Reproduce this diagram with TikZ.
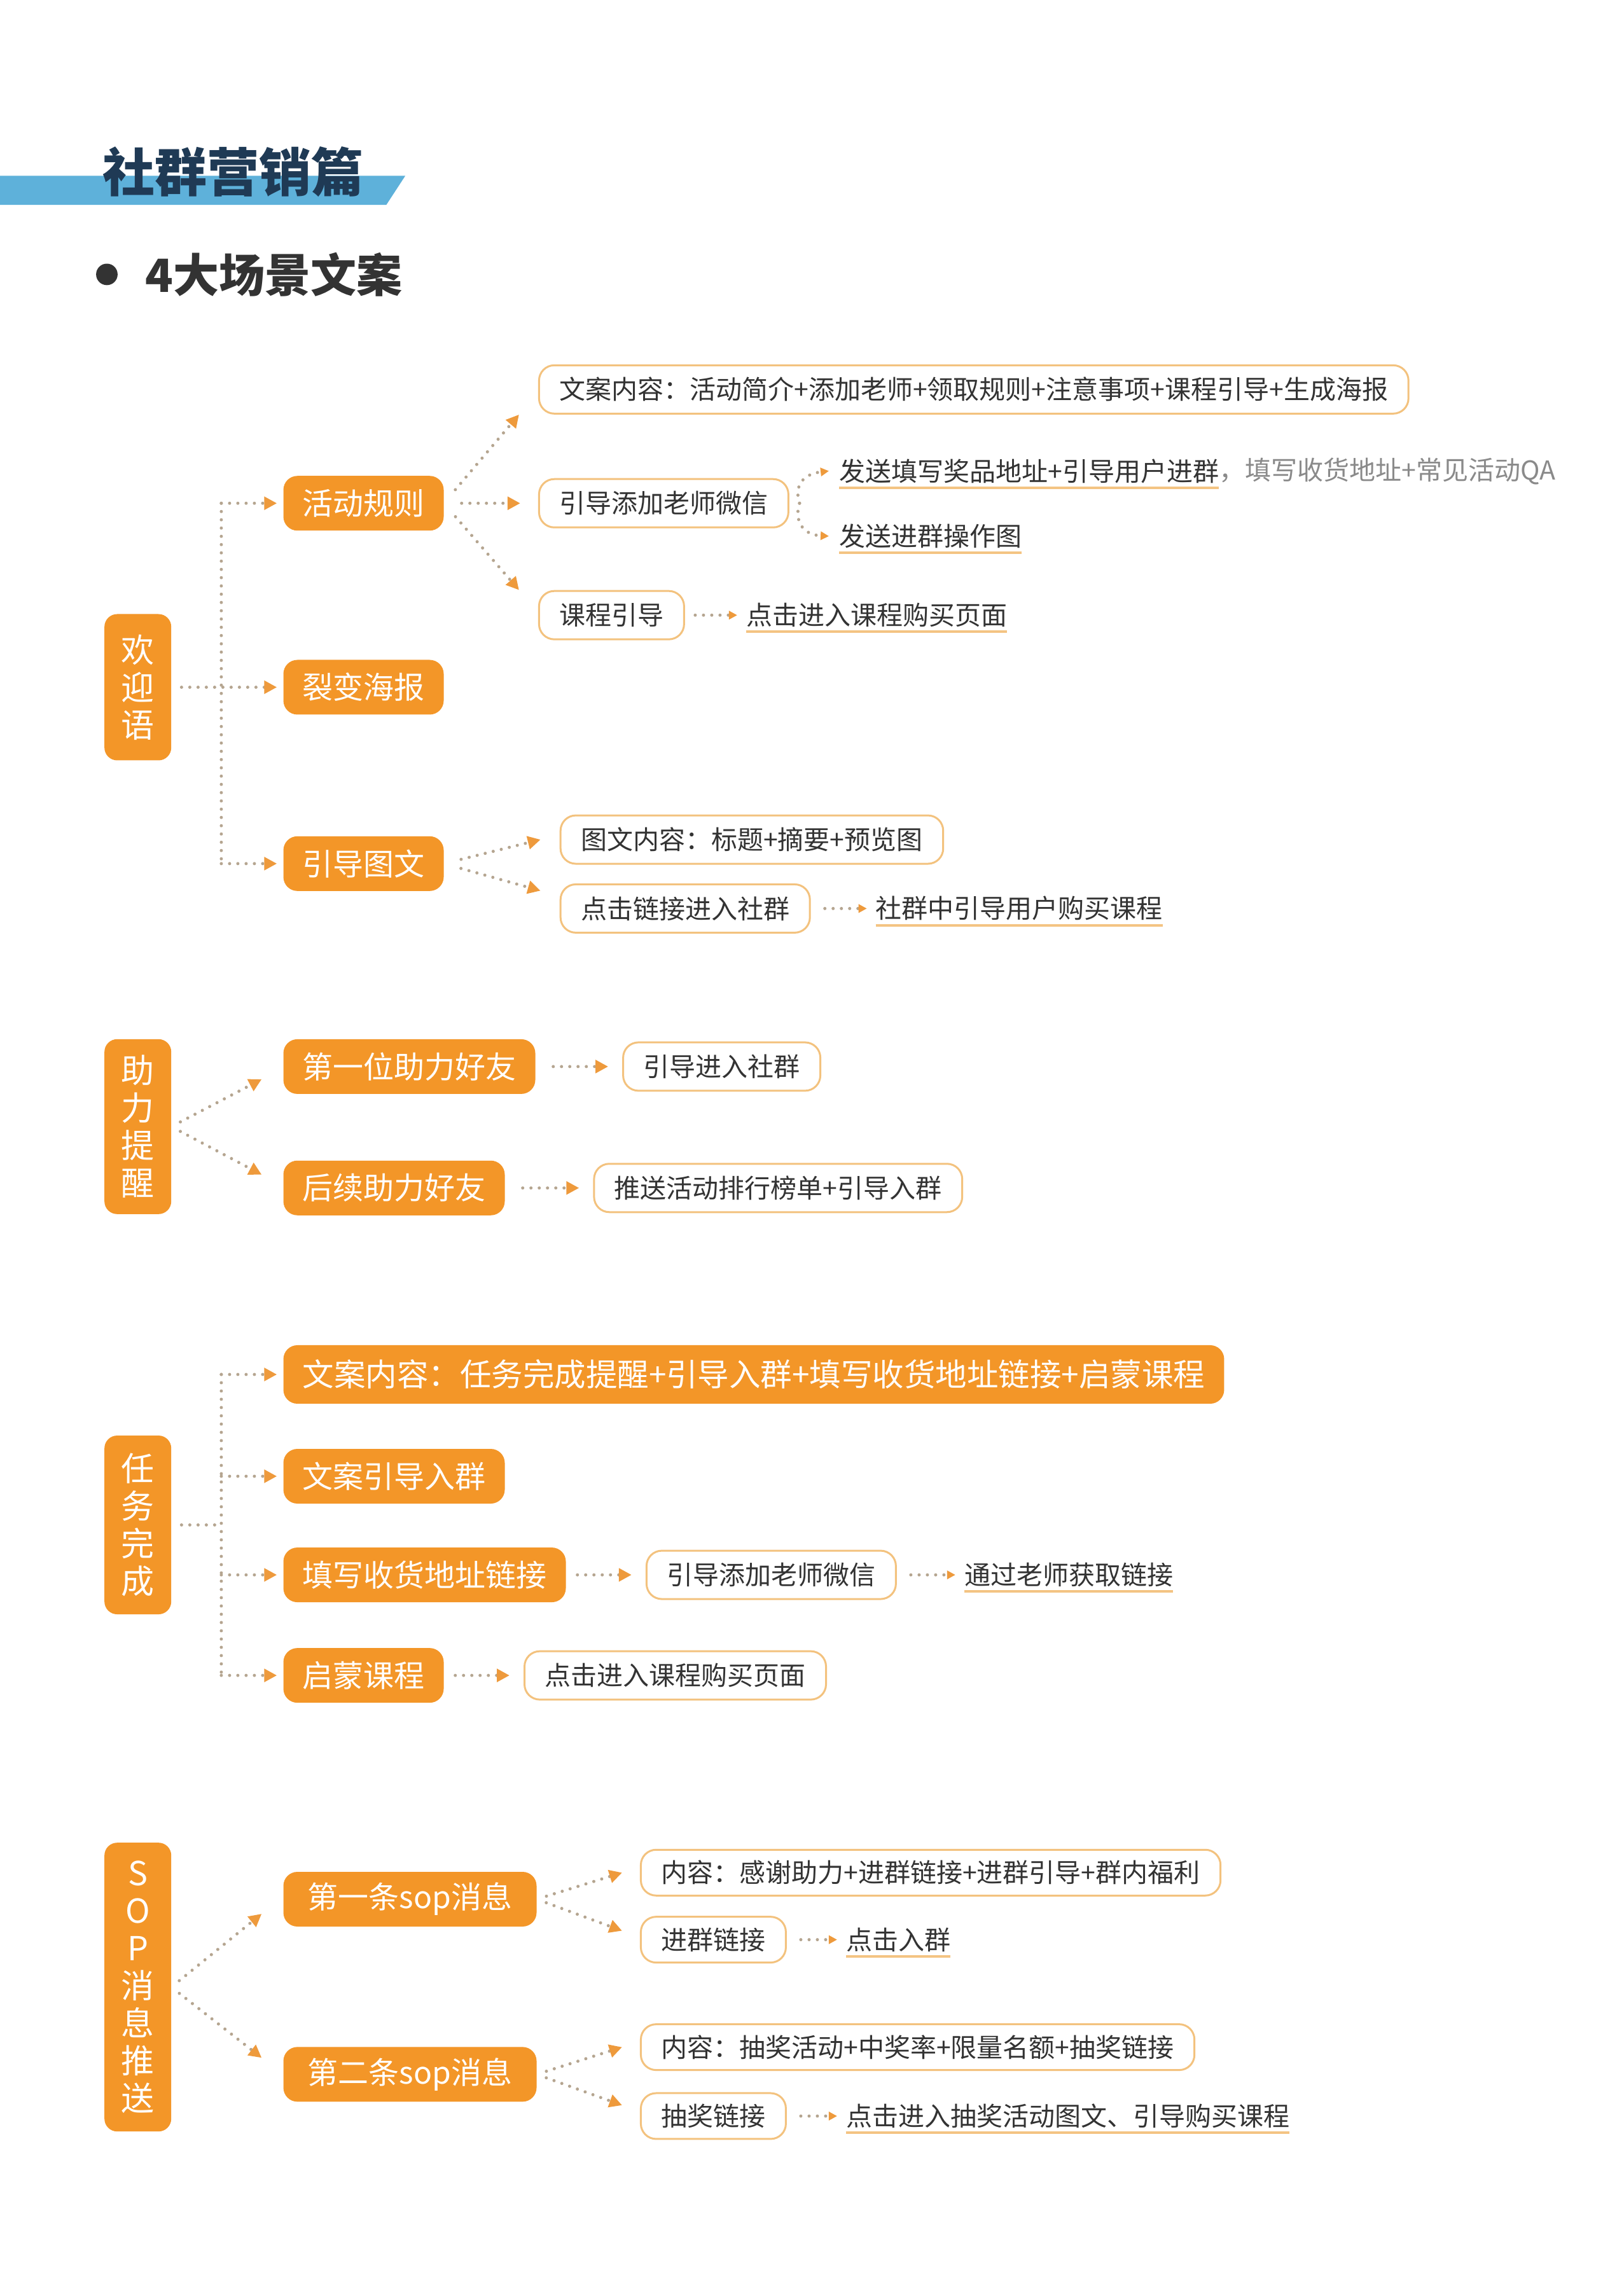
\documentclass[tikz,border=0pt]{standalone}
\usepackage{fontspec}
\setmainfont{Noto Sans CJK SC}
\usetikzlibrary{arrows.meta}
\definecolor{orng}{HTML}{F39628}
\definecolor{bord}{HTML}{F3C27E}
\definecolor{dotc}{HTML}{B5A590}
\definecolor{tipc}{HTML}{EE9A3C}
\definecolor{txt}{HTML}{333333}
\definecolor{band}{HTML}{5EB1DA}
\definecolor{navy}{HTML}{1F3A55}
\definecolor{grytxt}{HTML}{8A8A8A}
\definecolor{uline}{HTML}{F4C483}
\tikzset{
 obox/.style={fill=orng, rounded corners=22pt, text=white, font=\fontsize{48}{48}\selectfont, inner xsep=30pt, inner ysep=0pt, minimum height=86pt, anchor=west},
 wbox/.style={draw=bord, line width=3pt, fill=white, rounded corners=24pt, text=txt, font=\fontsize{41}{41}\selectfont, inner xsep=32pt, inner ysep=0pt, minimum height=76pt, anchor=west},
 vbox/.style={fill=orng, rounded corners=20pt, text=white, font=\fontsize{52}{59}\selectfont, align=center, minimum width=105pt, inner sep=0pt},
 utext/.style={text=txt, font=\fontsize{41}{41}\selectfont, anchor=west, inner xsep=0pt, inner ysep=7pt,
   append after command={(\tikzlastnode.south west) edge[draw=uline, line width=4pt] (\tikzlastnode.south east)}},
 gtext/.style={text=grytxt, font=\fontsize{41}{41}\selectfont, anchor=west, inner xsep=0pt, inner ysep=7pt},
 dotline/.style={draw=dotc, line width=5pt, line cap=round, dash pattern=on 0pt off 13pt},
 conn/.style={dotline, -{Triangle[length=20pt,width=20pt,color=tipc]}},
 conns/.style={dotline, -{Triangle[length=13pt,width=13pt,color=tipc]}},
}
\begin{document}
\begin{tikzpicture}[x=0.994pt,y=-0.994pt]
\useasboundingbox (0,0) rectangle (2567.4,3601.6);
\fill[white] (0,0) rectangle (2567.4,3601.6);

% ---------- title ----------
\fill[band] (0,278) -- (641,278) -- (611,324) -- (0,324) -- cycle;
\node[text=navy, font=\fontsize{82}{82}\selectfont\bfseries, anchor=west, inner sep=0pt] (title) at (162,272) {社群营销篇};
\fill[txt] (169,434) circle (17);
\node[text=txt, font=\fontsize{72}{72}\selectfont\bfseries, anchor=west, inner sep=0pt] (sub) at (230,434) {4大场景文案};

% ---------- section 1 ----------
\node[vbox, minimum height=230pt] (hy) at (218,1087) {欢\\迎\\语};
\node[obox] (hdgz) at (448,796) {活动规则};
\node[obox] (lbhb) at (448,1087) {裂变海报};
\node[obox] (ydtw) at (448,1366) {引导图文};
\coordinate (t1a) at (350,796);
\coordinate (t1b) at (350,1366);
\draw[dotline] (t1a) -- (t1b);
\draw[conn, shorten >=10pt] (t1a) -- (hdgz.west);
\draw[conn, shorten >=10pt] (t1b) -- (ydtw.west);
\draw[conn, shorten <=16pt, shorten >=10pt] (hy.east) -- (lbhb.west);

\node[wbox] (wanr1) at (851,616) {文案内容：活动简介+添加老师+领取规则+注意事项+课程引导+生成海报};
\node[wbox] (tjwx) at (851,796) {引导添加老师微信};
\node[wbox] (kcyd) at (851,973) {课程引导};
\draw[conn, shorten <=28pt] (hdgz.east) -- ([xshift=-30pt]wanr1.south west);
\draw[conn, shorten <=28pt, shorten >=28pt] (hdgz.east) -- (tjwx.west);
\draw[conn, shorten <=28pt] (hdgz.east) -- ([xshift=-30pt]kcyd.north west);

\node[utext] (fstx) at (1327,745) {发送填写奖品地址+引导用户进群};
\node[gtext] (qa) at (fstx.east) {，填写收货地址+常见活动QA};
\node[utext] (fsjq) at (1327,848) {发送进群操作图};
\draw[conns] ([xshift=16pt]tjwx.east) .. controls (1256,770) and (1268,750) .. ([xshift=-16pt]fstx.west);
\draw[conns] ([xshift=16pt]tjwx.east) .. controls (1256,822) and (1268,846) .. ([xshift=-16pt]fsjq.west);

\node[utext] (djjr1) at (1180,973) {点击进入课程购买页面};
\draw[conns, shorten <=16pt, shorten >=14pt] (kcyd.east) -- (djjr1.west);

\node[wbox] (twnr) at (885,1328) {图文内容：标题+摘要+预览图};
\node[wbox] (djlj) at (885,1437) {点击链接进入社群};
\draw[conn, shorten <=28pt] (ydtw.east) -- ([xshift=-30pt]twnr.west);
\draw[conn, shorten <=28pt] (ydtw.east) -- ([xshift=-30pt,yshift=28pt]djlj.west);
\node[utext] (sqzyd) at (1385,1437) {社群中引导用户购买课程};
\draw[conns, shorten <=22pt, shorten >=14pt] (djlj.east) -- (sqzyd.west);

% ---------- section 2 ----------
\node[vbox, minimum height=275pt] (zltx) at (218,1782) {助\\力\\提\\醒};
\node[obox] (dywzl) at (448,1687) {第一位助力好友};
\node[obox] (hxzl) at (448,1879) {后续助力好友};
\draw[conn, shorten <=16pt] (zltx.east) -- ([xshift=-34pt,yshift=-20pt]dywzl.west);
\draw[conn, shorten <=16pt] (zltx.east) -- ([xshift=-34pt,yshift=21pt]hxzl.west);
\node[wbox] (ydjr) at (984,1687) {引导进入社群};
\node[wbox] (tshd) at (938,1879) {推送活动排行榜单+引导入群};
\draw[conn, shorten <=28pt, shorten >=22pt] (dywzl.east) -- (ydjr.west);
\draw[conn, shorten <=28pt, shorten >=22pt] (hxzl.east) -- (tshd.west);

% ---------- section 3 ----------
\node[vbox, minimum height=281pt] (rwwc) at (218,2412) {任\\务\\完\\成};
\node[obox, minimum height=92pt, font=\fontsize{49.5}{49.5}\selectfont] (wanr2) at (448,2174) {文案内容：任务完成提醒+引导入群+填写收货地址链接+启蒙课程};
\node[obox] (wayd) at (448,2335) {文案引导入群};
\node[obox] (txsh) at (448,2491) {填写收货地址链接};
\node[obox] (qmkc) at (448,2650) {启蒙课程};
\coordinate (t3a) at (350,2174);
\coordinate (t3b) at (350,2650);
\coordinate (t3m) at (350,2412);
\draw[dotline] (t3a) -- (t3b);
\draw[dotline, shorten <=16pt] (rwwc.east) -- (t3m);
\draw[conn, shorten >=10pt] (t3a) -- (wanr2.west);
\draw[conn, shorten >=10pt] (t3a |- wayd.west) -- (wayd.west);
\draw[conn, shorten >=10pt] (t3a |- txsh.west) -- (txsh.west);
\draw[conn, shorten >=10pt] (t3b) -- (qmkc.west);
\node[wbox] (tjwx2) at (1021,2491) {引导添加老师微信};
\node[utext] (tglszq) at (1525,2491) {通过老师获取链接};
\draw[conn, shorten <=18pt, shorten >=22pt] (txsh.east) -- (tjwx2.west);
\draw[conns, shorten <=22pt, shorten >=14pt] (tjwx2.east) -- (tglszq.west);
\node[wbox] (djjr2) at (828,2650) {点击进入课程购买页面};
\draw[conn, shorten <=18pt, shorten >=22pt] (qmkc.east) -- (djjr2.west);

% ---------- section 4 ----------
\node[vbox, minimum height=454pt] (sop) at (218,3143) {S\\O\\P\\消\\息\\推\\送};
\node[obox, minimum width=398pt] (d1) at (448,3004) {第一条sop消息};
\node[obox, minimum width=398pt] (d2) at (448,3281) {第二条sop消息};
\draw[conn, shorten <=16pt] (sop.east) -- ([xshift=-34pt,yshift=-23pt]d1.west);
\draw[conn, shorten <=16pt] (sop.east) -- ([xshift=-34pt,yshift=26pt]d2.west);

\node[wbox, minimum height=72pt] (nr1) at (1012,2962) {内容：感谢助力+进群链接+进群引导+群内福利};
\node[wbox, minimum height=72pt] (jqlj) at (1012,3068) {进群链接};
\node[utext] (djrq) at (1338,3068) {点击入群};
\draw[conn, shorten <=16pt] (d1.east) -- ([xshift=-28pt]nr1.west);
\draw[conn, shorten <=16pt] (d1.east) -- ([xshift=-28pt,yshift=14pt]jqlj.west);
\draw[conns, shorten <=22pt, shorten >=14pt] (jqlj.east) -- (djrq.west);

\node[wbox, minimum height=72pt] (nr2) at (1012,3238) {内容：抽奖活动+中奖率+限量名额+抽奖链接};
\node[wbox, minimum height=72pt] (cjlj) at (1012,3347) {抽奖链接};
\node[utext] (djjr3) at (1338,3347) {点击进入抽奖活动图文、引导购买课程};
\draw[conn, shorten <=16pt] (d2.east) -- ([xshift=-28pt]nr2.west);
\draw[conn, shorten <=16pt] (d2.east) -- ([xshift=-28pt,yshift=17pt]cjlj.west);
\draw[conns, shorten <=22pt, shorten >=14pt] (cjlj.east) -- (djjr3.west);
\end{tikzpicture}
\end{document}
